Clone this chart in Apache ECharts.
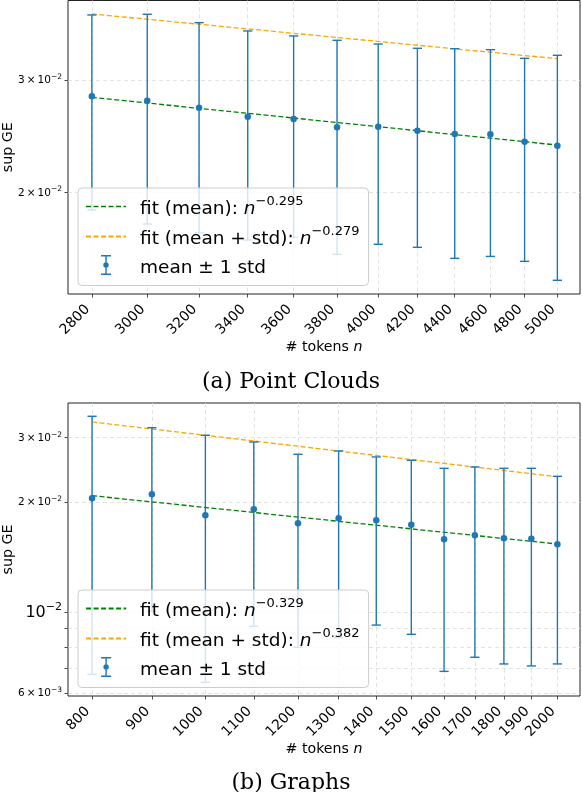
<!DOCTYPE html>
<html>
<head>
<meta charset="utf-8">
<script src="https://cdn.jsdelivr.net/npm/echarts@6/dist/echarts.min.js"></script>
<style>
html,body{margin:0;padding:0;background:#fff;}
#chart{width:582px;height:792px;}
</style>
</head>
<body>
<div id="chart"></div>
<script>
// ---------- (a) Point Clouds ----------
const nTop = [2800, 3000, 3200, 3400, 3600, 3800, 4000, 4200, 4400, 4600, 4800, 5000];
const meanTop = [0.02829, 0.02784, 0.02715, 0.02628, 0.02606, 0.02529, 0.02534, 0.02498, 0.02468, 0.02466, 0.02401, 0.02366];
const upperTop = [0.03794, 0.03803, 0.03690, 0.03581, 0.03517, 0.03462, 0.03416, 0.03364, 0.03359, 0.03347, 0.03244, 0.03280];
const lowerTop = [0.01876, 0.01784, 0.01728, 0.01684, 0.01700, 0.01599, 0.01658, 0.01640, 0.01576, 0.01587, 0.01559, 0.01456];
const fitNTop = [2800, 5000];
const fitMeanTop = [0.02818, 0.02372];
const fitUpperTop = [0.03808, 0.03240];
const yTickTop = [0.02, 0.03];
const yLabelTop = [0.02, 0.03];
const yLabelTextTop = ['2×10^−2', '3×10^−2'];
const legendTop = ['fit (mean): n^−0.295', 'fit (mean + std): n^−0.279', 'mean ± 1 std'];

// ---------- (b) Graphs ----------
const nBot = [800, 900, 1000, 1100, 1200, 1300, 1400, 1500, 1600, 1700, 1800, 1900, 2000];
const meanBot = [0.02047, 0.02099, 0.01839, 0.01910, 0.01748, 0.01804, 0.01781, 0.01733, 0.01580, 0.01621, 0.01590, 0.01586, 0.01531];
const upperBot = [0.03434, 0.03195, 0.03046, 0.02920, 0.02702, 0.02759, 0.02657, 0.02602, 0.02473, 0.02494, 0.02473, 0.02473, 0.02351];
const lowerBot = [0.00674, 0.01003, 0.00641, 0.00913, 0.00800, 0.00850, 0.00920, 0.00868, 0.00687, 0.00751, 0.00720, 0.00711, 0.00720];
const fitNBot = [800, 2000];
const fitMeanBot = [0.02081, 0.01534];
const fitUpperBot = [0.03313, 0.02345];
const yTickBot = [0.006, 0.007, 0.008, 0.009, 0.01, 0.02, 0.03];
const yLabelBot = [0.006, 0.01, 0.02, 0.03];
const yLabelTextBot = ['6×10^−3', '10^−2', '2×10^−2', '3×10^−2'];
const legendBot = ['fit (mean): n^−0.329', 'fit (mean + std): n^−0.382', 'mean ± 1 std'];

const captions = ['(a) Point Clouds', '(b) Graphs'];
const xName = '# tokens n';
const yName = 'sup GE';

// ---------- styling ----------
const BLUE = '#1f77b4', GREEN = '#008000', ORANGE = '#ffa500';
const FONT = 'DejaVu Sans';
const gridLine = {show: true, lineStyle: {color: '#dcdcdc', type: [4, 3], width: 0.8}};

function yLabelRich(text) {
  const p = text.split('^');
  if (p[0] === '10') return '{M|10}{S|' + p[1] + '}';
  return '{m|' + p[0].replace('×', '\u2009×\u2009') + '}{s|' + p[1] + '}';
}
function makeYFormatter(vals, texts) {
  return function (v) {
    let best = 0, bd = Infinity;
    vals.forEach((t, i) => { const d = Math.abs(Math.log(v) - Math.log(t)); if (d < bd) { bd = d; best = i; } });
    return yLabelRich(texts[best]);
  };
}
function legendRich(name) {
  const k = name.indexOf('n^');
  if (k < 0) return '{g| }{t|' + name + '}';
  return '{g| }{t|' + name.slice(0, k) + '}{i|n}{s|' + name.slice(k + 2) + '}';
}
const yRich = {
  m: {fontSize: 10.5, fontFamily: FONT, lineHeight: 12, verticalAlign: 'bottom', color: '#000'},
  s: {fontSize: 7.5, fontFamily: FONT, lineHeight: 8, padding: [0, 0, 5, 0], verticalAlign: 'bottom', color: '#000'},
  M: {fontSize: 16, fontFamily: FONT, lineHeight: 18, verticalAlign: 'bottom', color: '#000'},
  S: {fontSize: 11, fontFamily: FONT, lineHeight: 12, padding: [0, 0, 8, 0], verticalAlign: 'bottom', color: '#000'}
};
const legendRichStyle = {
  g: {width: 9, fontSize: 18.5},
  t: {fontSize: 18.5, fontFamily: FONT, lineHeight: 25, verticalAlign: 'bottom', color: '#000'},
  i: {fontSize: 18.5, fontFamily: FONT, fontStyle: 'italic', lineHeight: 25, verticalAlign: 'bottom', color: '#000'},
  s: {fontSize: 13, fontFamily: FONT, lineHeight: 14, padding: [0, 0, 11, 0], verticalAlign: 'bottom', color: '#000'}
};
const errIcon = 'path://M0,0H10V1.5H0Z M4.3,0H5.7V20H4.3Z M0,18.5H10V20H0Z M2.3,10A2.7,2.7,0,1,1,7.7,10A2.7,2.7,0,1,1,2.3,10Z';

function xAxisFor(idx, ticks, min, max) {
  return {
    gridIndex: idx, type: 'log', logBase: 10, min: min, max: max,
    axisLine: {show: false},
    axisTick: {show: true, customValues: ticks, length: 3.5, lineStyle: {color: '#222', width: 0.8}},
    axisLabel: {customValues: ticks, rotate: 45, fontSize: 14, fontFamily: FONT, color: '#000', margin: 9,
      padding: [0, 6, 0, 0], formatter: v => String(Math.round(v))},
    splitLine: gridLine, minorTick: {show: false}, minorSplitLine: {show: false},
    name: xName.replace(/ n$/, ' {i|n}'), nameLocation: 'middle', nameGap: 46, nameMoveOverlap: false,
    nameTextStyle: {fontSize: 14.2, fontFamily: FONT, color: '#000',
      rich: {i: {fontSize: 14.2, fontFamily: FONT, fontStyle: 'italic', color: '#000'}}}
  };
}
function yAxisFor(idx, ticks, labels, texts, min, max) {
  return {
    gridIndex: idx, type: 'log', logBase: 10, min: min, max: max,
    axisLine: {show: false},
    axisTick: {show: true, customValues: ticks, length: 3.5, lineStyle: {color: '#222', width: 0.8}},
    axisLabel: {customValues: labels, margin: 6, formatter: makeYFormatter(labels, texts), rich: yRich},
    splitLine: gridLine, minorTick: {show: false}, minorSplitLine: {show: false},
    name: yName, nameLocation: 'middle', nameRotate: 90, nameGap: 53, nameMoveOverlap: false,
    nameTextStyle: {fontSize: 14.2, fontFamily: FONT, color: '#000'}
  };
}
function seriesFor(idx, ns, mean, lo, hi, fitN, fitM, fitU, names) {
  const pair = (xs, ys) => xs.map((x, i) => [x, ys[i]]);
  return [
    {type: 'line', name: names[1], xAxisIndex: idx, yAxisIndex: idx, data: pair(fitN, fitU), symbol: 'none',
      lineStyle: {color: ORANGE, width: 1.3, type: [5, 2.5]}, itemStyle: {color: ORANGE}, z: 2, silent: true},
    {type: 'line', name: names[0], xAxisIndex: idx, yAxisIndex: idx, data: pair(fitN, fitM), symbol: 'none',
      lineStyle: {color: GREEN, width: 1.3, type: [5, 2.5]}, itemStyle: {color: GREEN}, z: 2, silent: true},
    {type: 'custom', name: 'errbar' + idx, xAxisIndex: idx, yAxisIndex: idx,
      data: ns.map((n, i) => [n, lo[i], hi[i]]), encode: {x: 0, y: [1, 2]}, z: 3, silent: true,
      renderItem: function (params, api) {
        const a = api.coord([api.value(0), api.value(2)]);
        const b = api.coord([api.value(0), api.value(1)]);
        const c = 4.6, st = {stroke: BLUE, lineWidth: 1.4, fill: null};
        return {type: 'group', children: [
          {type: 'line', shape: {x1: a[0], y1: a[1], x2: b[0], y2: b[1]}, style: st},
          {type: 'line', shape: {x1: a[0] - c, y1: a[1], x2: a[0] + c, y2: a[1]}, style: st},
          {type: 'line', shape: {x1: b[0] - c, y1: b[1], x2: b[0] + c, y2: b[1]}, style: st}
        ]};
      }},
    {type: 'scatter', name: names[2], xAxisIndex: idx, yAxisIndex: idx, data: pair(ns, mean),
      symbol: 'circle', symbolSize: 6.5, itemStyle: {color: BLUE, opacity: 1}, z: 4, silent: true}
  ];
}
function legendFor(names, left, top, greenWidth) {
  const hide = {color: 'rgba(0,0,0,0)', borderWidth: 0, opacity: 0};
  return {
    orient: 'vertical', left: left, top: top, selectedMode: false,
    backgroundColor: 'rgba(255,255,255,0.8)', borderColor: '#cccccc', borderWidth: 1, borderRadius: 4,
    padding: [7, 9, 8, 7], itemWidth: 40, itemHeight: 20, itemGap: 6,
    data: [
      {name: names[0], itemStyle: hide, lineStyle: {width: greenWidth}},
      {name: names[1], itemStyle: hide},
      {name: names[2], icon: errIcon, itemStyle: {color: BLUE, opacity: 1}}
    ],
    formatter: legendRich, textStyle: {rich: legendRichStyle, fontFamily: FONT, fontSize: 18.5, color: '#000'}
  };
}

const chart = echarts.init(document.getElementById('chart'), null, {renderer: 'canvas'});
chart.setOption({
  animation: false,
  backgroundColor: '#ffffff',
  title: [
    {text: captions[0], left: 'center', top: 366, textStyle: {fontFamily: 'DejaVu Serif', fontSize: 22, fontWeight: 'normal', color: '#000'}},
    {text: captions[1], left: 'center', top: 767, textStyle: {fontFamily: 'DejaVu Serif', fontSize: 22, fontWeight: 'normal', color: '#000'}}
  ],
  grid: [
    {left: 68, top: 0.5, width: 512, height: 293.5, show: true, borderColor: '#222', borderWidth: 1,
      backgroundColor: 'transparent', containLabel: false, outerBoundsMode: 'none'},
    {left: 68, top: 403, width: 512, height: 293, show: true, borderColor: '#222', borderWidth: 1,
      backgroundColor: 'transparent', containLabel: false, outerBoundsMode: 'none'}
  ],
  xAxis: [xAxisFor(0, nTop, 2718, 5143), xAxisFor(1, nBot, 763, 2091)],
  yAxis: [
    yAxisFor(0, yTickTop, yLabelTop, yLabelTextTop, 0.013857, 0.03997),
    yAxisFor(1, yTickBot, yLabelBot, yLabelTextBot, 0.005882, 0.03734)
  ],
  legend: [legendFor(legendTop, 78, 188, 1.3), legendFor(legendBot, 78, 590, 2.2)],
  series: [].concat(
    seriesFor(0, nTop, meanTop, lowerTop, upperTop, fitNTop, fitMeanTop, fitUpperTop, legendTop),
    seriesFor(1, nBot, meanBot, lowerBot, upperBot, fitNBot, fitMeanBot, fitUpperBot, legendBot)
  )
});
</script>
</body>
</html>
